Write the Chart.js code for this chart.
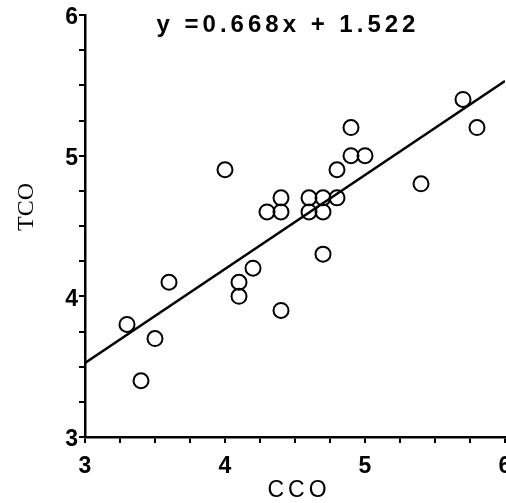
<!DOCTYPE html>
<html><head><meta charset="utf-8">
<script src="https://cdn.jsdelivr.net/npm/chart.js@4"></script>
<style>html,body{margin:0;padding:0;background:#fff;overflow:hidden}canvas{display:block}</style>
</head><body>
<canvas id="c" width="506" height="503"></canvas>
<script>
// Data
const cco = [3.3, 3.4, 3.5, 3.6, 4.0, 4.1, 4.1, 4.2, 4.3, 4.4, 4.4, 4.4, 4.6, 4.6, 4.7, 4.7, 4.7, 4.8, 4.8, 4.9, 4.9, 5.0, 5.4, 5.7, 5.8];
const tco = [3.8, 3.4, 3.7, 4.1, 4.9, 4.1, 4.0, 4.2, 4.6, 4.6, 4.7, 3.9, 4.6, 4.7, 4.7, 4.6, 4.3, 4.7, 4.9, 5.0, 5.2, 5.0, 4.8, 5.4, 5.2];
const slope = 0.668;
const intercept = 1.522;
const xRange = [3, 6];
const yRange = [3, 6];
const xTickLabels = [3, 4, 5, 6];
const yTickLabels = [3, 4, 5, 6];
const equationText = 'y =0.668x + 1.522';
const xTitle = 'CCO';
const yTitle = 'TCO';

const points = cco.map((x, i) => ({x: x, y: tco[i]}));
const fitLine = xRange.map(x => ({x: x, y: slope * x + intercept}));

const textPlugin = {
  id: 'texts',
  afterDraw(chart) {
    const ctx = chart.ctx, a = chart.chartArea;
    ctx.save();
    ctx.fillStyle = '#000';
    // equation
    ctx.font = 'bold 24px "Liberation Sans", Arial, sans-serif';
    ctx.letterSpacing = '4px';
    ctx.textAlign = 'center';
    ctx.textBaseline = 'alphabetic';
    ctx.fillText(equationText, a.left + 203, 32);
    // x title
    ctx.font = '23px "Liberation Sans", Arial, sans-serif';
    ctx.letterSpacing = '4px';
    ctx.fillText(xTitle, (a.left + a.right) / 2 + 4, 497);
    // y title
    ctx.letterSpacing = '0px';
    ctx.font = '24px "Liberation Serif", serif';
    ctx.translate(33, 207);
    ctx.rotate(-Math.PI / 2);
    ctx.fillText(yTitle, 0, 0);
    ctx.restore();
  }
};

const axisCommon = {
  type: 'linear',
  grid: {display: true, drawOnChartArea: false, drawTicks: true, tickLength: 6, color: '#000', lineWidth: 2},
  border: {display: true, color: '#000', width: 2.5}
};

new Chart(document.getElementById('c'), {
  type: 'scatter',
  data: {
    datasets: [
      {
        type: 'scatter',
        data: points,
        pointStyle: 'circle',
        pointRadius: 7.5,
        pointBorderWidth: 2,
        backgroundColor: 'rgba(0,0,0,0)',
        borderColor: '#000'
      },
      {
        type: 'line',
        data: fitLine,
        borderColor: '#000',
        borderWidth: 2.5,
        pointRadius: 0,
        fill: false,
        tension: 0
      }
    ]
  },
  options: {
    responsive: false,
    animation: false,
    devicePixelRatio: 1,
    layout: {autoPadding: false, padding: {top: 15, right: 1, bottom: 0, left: 0}},
    plugins: {legend: {display: false}, tooltip: {enabled: false}, title: {display: false}},
    scales: {
      x: Object.assign({}, axisCommon, {
        position: 'bottom',
        min: xRange[0], max: xRange[1],
        ticks: {
          stepSize: 0.25, autoSkip: false, maxRotation: 0, color: '#000', padding: 10,
          font: {family: '"Liberation Sans", Arial, sans-serif', size: 23, weight: 'bold'},
          callback: v => xTickLabels.includes(v) ? String(v) : ''
        },
        afterFit: s => { s.height = 66; s.paddingLeft = 0; s.paddingRight = 0; }
      }),
      y: Object.assign({}, axisCommon, {
        position: 'left',
        min: yRange[0], max: yRange[1],
        ticks: {
          stepSize: 0.25, autoSkip: false, color: '#000', padding: 1, labelOffset: 3,
          font: {family: '"Liberation Sans", Arial, sans-serif', size: 23, weight: 'bold'},
          callback: v => yTickLabels.includes(v) ? String(v) : ''
        },
        afterFit: s => { s.width = 85; s.paddingTop = 0; s.paddingBottom = 0; }
      })
    }
  },
  plugins: [textPlugin]
});
</script>
</body></html>
